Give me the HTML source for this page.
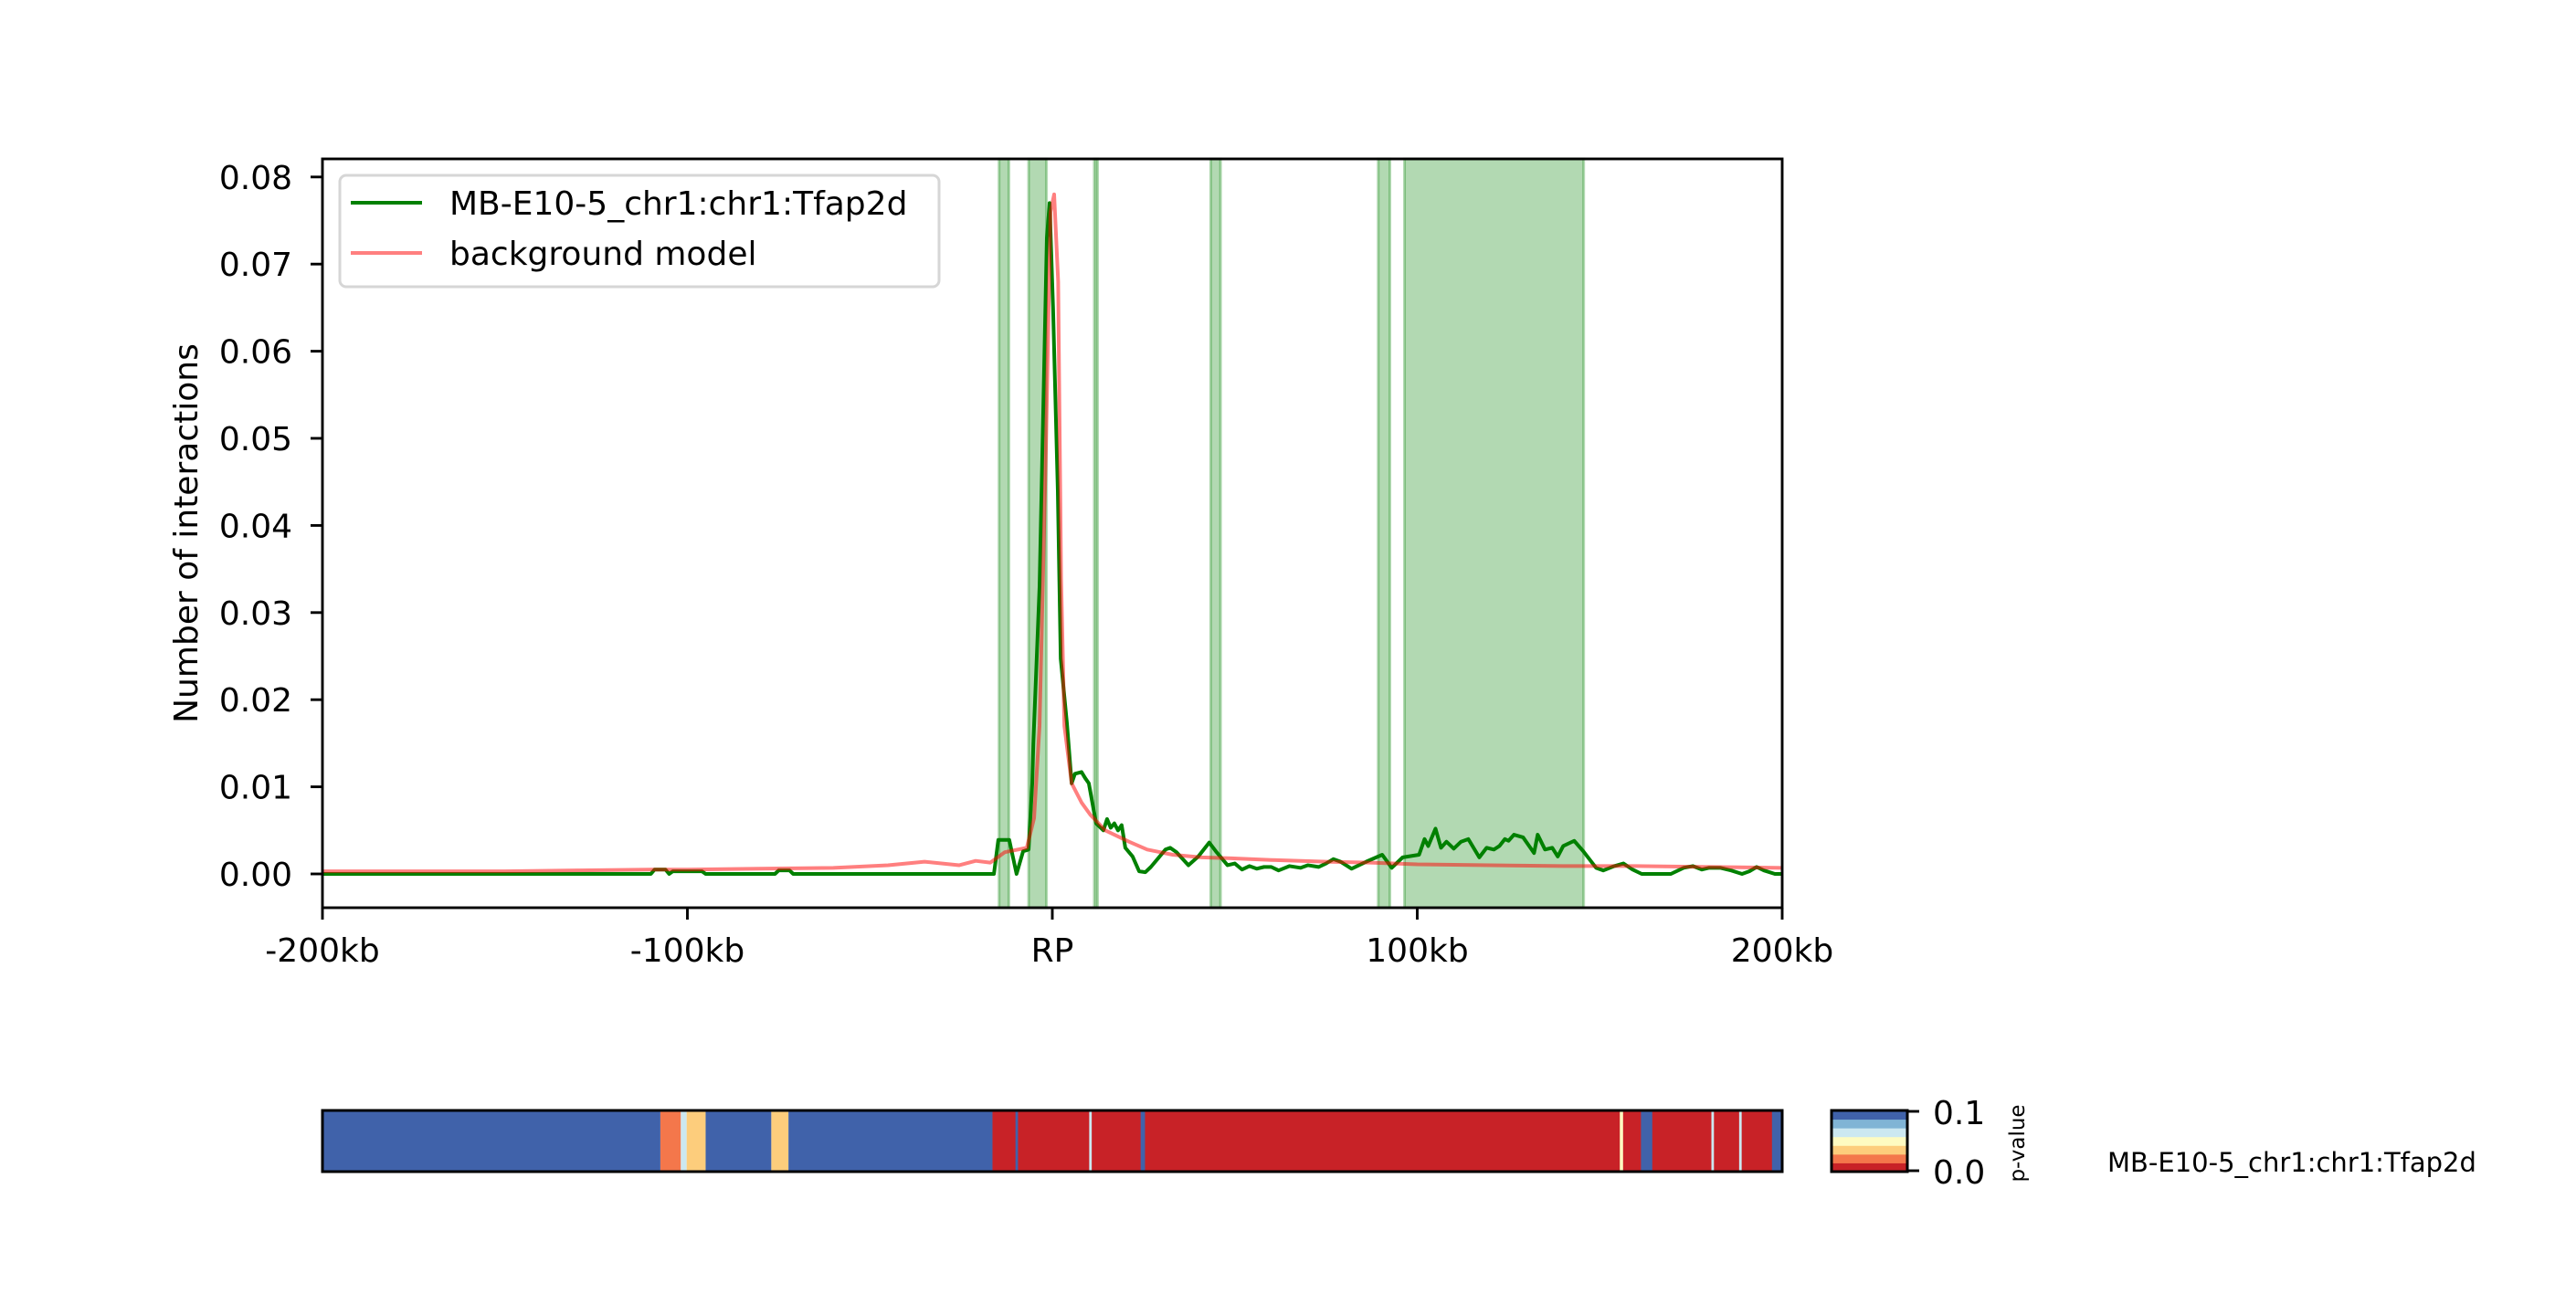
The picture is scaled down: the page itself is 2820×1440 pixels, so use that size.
<!DOCTYPE html>
<html><head><meta charset="utf-8"><style>
html,body{margin:0;padding:0;background:#fff;}
svg{display:block;font-family:"DejaVu Sans","Liberation Sans",sans-serif;}
</style></head><body>
<svg id="chart" width="2820" height="1440" viewBox="0 0 2820 1440" xmlns="http://www.w3.org/2000/svg">
<rect width="2820" height="1440" fill="#fff"/>
<g id="shade"></g>
<g id="lines"></g>
<g id="axes"></g>
<g id="legend"></g>
<g id="heat"></g>
<g id="cbar"></g>
</svg>
<script>
const obsKb=[-200,-110,-109,-106,-105,-104,-96,-95,-76,-75,-72,-71,-16,-14.8,-11.8,-9.8,-8,-6.5,-5.5,-5.2,-3.5,-1.5,-0.75,0.2,1.5,2.3,4,5.3,6.2,8,9,10,12,14,15,16,17,18,19,20,22,23.8,25.5,27,31,32.3,34,37.3,40,43,45,48,50,52,54,56,58,60,62,65,68,70,73,75,77,79,82,86,90.4,93,96,100.5,102,103,105,106.5,108,110,112,114,117,119,121,122.5,124,125,126.5,129,131,132,133,135,137,138.5,140,143,145.5,149,151,154,156.5,159,161.5,169.5,173,175.5,178,180,183,186,189,191,193,195,198,200];
const obsVal=[0,0,0.0005,0.0005,0,0.0003,0.0003,0,0,0.0004,0.0004,0,0,0.0039,0.0039,0,0.0026,0.0028,0.0104,0.015,0.033,0.073,0.077,0.065,0.044,0.0247,0.0173,0.0104,0.0115,0.0117,0.011,0.0104,0.0058,0.005,0.0063,0.0053,0.0058,0.005,0.0056,0.003,0.002,0.0003,0.0002,0.0008,0.0028,0.003,0.0025,0.001,0.002,0.0036,0.0025,0.001,0.0012,0.0005,0.0009,0.0006,0.0008,0.0008,0.0004,0.0009,0.0007,0.001,0.0008,0.0012,0.0017,0.0014,0.0006,0.0014,0.0022,0.0007,0.0019,0.0022,0.004,0.0032,0.0052,0.003,0.0037,0.0029,0.0037,0.004,0.0019,0.003,0.0028,0.0032,0.004,0.0038,0.0045,0.0042,0.003,0.0024,0.0045,0.0028,0.003,0.002,0.0032,0.0038,0.0026,0.0007,0.0004,0.0009,0.0012,0.0005,0,0,0.0007,0.0009,0.0005,0.0007,0.0007,0.0004,0,0.0003,0.0008,0.0004,0,0];
const bgKb=[-200,-150,-130,-110,-100,-80,-60,-45,-35,-25.5,-21,-17,-13,-7,-5,-3.5,-1.75,-0.5,0.5,1.6,2.4,3.3,5.3,8,10.4,14.5,21,26,33,41,49,60,75,87,100,120,140,160,180,200];
const bgVal=[0.0003,0.0003,0.0004,0.0005,0.0005,0.0006,0.0007,0.001,0.0014,0.001,0.0015,0.0013,0.0025,0.003,0.0064,0.017,0.049,0.076,0.078,0.068,0.034,0.017,0.0104,0.0082,0.0068,0.005,0.0037,0.0028,0.0022,0.0019,0.0018,0.0016,0.0014,0.0013,0.0011,0.001,0.0009,0.0009,0.0008,0.0007];
const regionStart=[-14.6,-6.5,11.5,43.4,89.3,96.5];
const regionEnd=[-11.9,-1.6,12.4,46.1,92.5,145.6];
const yTicks=[0,0.01,0.02,0.03,0.04,0.05,0.06,0.07,0.08];
const yTickLabels=["0.00","0.01","0.02","0.03","0.04","0.05","0.06","0.07","0.08"];
const xTicks=[-200,-100,0,100,200];
const xTickLabels=["-200kb","-100kb","RP","100kb","200kb"];
const segStart=[-200,-107.4,-101.8,-100.2,-95,-77,-72.3,-16.4,-10.1,10.1,24.2,155.5,161.3,180.6,188.2,197.2];
const segEnd=[-107.4,-101.8,-100.2,-95,-77,-72.3,-16.4,200,-9.4,10.8,25.4,156.4,164.4,181.3,188.9,200];
const segP=[0.1,0.02,0.06,0.035,0.1,0.035,0.1,0.0,0.09,0.06,0.1,0.05,0.1,0.06,0.06,0.1];
const cbColors=["#c82227","#f4774b","#fdcd7c","#fefbc1","#cce8f1","#80b4d5","#4062aa"];

const NS="http://www.w3.org/2000/svg";
const L=353,R=1951,T=174,B=994;
const X=kb=>L+(kb+200)/400*(R-L);
const Y=v=>957-v/0.01*95.4;
function mk(tag,attrs,parent,text){const e=document.createElementNS(NS,tag);for(const k in attrs)e.setAttribute(k,attrs[k]);if(text!==undefined)e.textContent=text;parent.appendChild(e);return e;}

const shade=document.getElementById('shade');
for(let i=0;i<regionStart.length;i++){
  const r=mk('rect',{x:X(regionStart[i]),y:T,width:X(regionEnd[i])-X(regionStart[i]),height:B-T,fill:'rgba(0,128,0,0.3)',stroke:'rgba(0,128,0,0.3)','stroke-width':3},shade);
  
  
}
const lines=document.getElementById('lines');
const gp=mk('polyline',{points:obsKb.map((k,i)=>X(k)+','+Y(obsVal[i])).join(' '),fill:'none',stroke:'#008000','stroke-width':4,'stroke-linejoin':'round'},lines);


const rp=mk('polyline',{points:bgKb.map((k,i)=>X(k)+','+Y(bgVal[i])).join(' '),fill:'none',stroke:'rgba(255,0,0,0.5)','stroke-width':4,'stroke-linejoin':'round'},lines);



const axes=document.getElementById('axes');
const fr=mk('rect',{x:L,y:T,width:R-L,height:B-T,fill:'none',stroke:'#000','stroke-width':2.9},axes);


yTicks.forEach((v,i)=>{
  mk('line',{x1:L-13,x2:L,y1:Y(v),y2:Y(v),stroke:'#000','stroke-width':2.9},axes);
  const t=mk('text',{x:L-33,y:Y(v)+13,'font-size':36,'text-anchor':'end',fill:'#000'},axes,yTickLabels[i]);
  
  
});
xTicks.forEach((k,i)=>{
  mk('line',{x1:X(k),x2:X(k),y1:B,y2:B+13,stroke:'#000','stroke-width':2.9},axes);
  const t=mk('text',{x:X(k),y:1053,'font-size':36,'text-anchor':'middle',fill:'#000'},axes,xTickLabels[i]);
  
  
});
const yt=mk('text',{x:0,y:0,'font-size':36,'text-anchor':'middle',transform:'translate(216,584) rotate(-90)',fill:'#000'},axes,'Number of interactions');



const leg=document.getElementById('legend');
mk('rect',{x:372,y:192,width:656,height:122,rx:7,fill:'rgba(255,255,255,0.8)',stroke:'#d6d6d6','stroke-width':3},leg);
mk('line',{x1:384,x2:462,y1:222,y2:222,stroke:'#008000','stroke-width':4},leg);
const l1=mk('text',{x:492,y:235,'font-size':36,fill:'#000'},leg,'MB-E10-5_chr1:chr1:Tfap2d');


mk('line',{x1:384,x2:462,y1:277,y2:277,stroke:'rgba(255,0,0,0.5)','stroke-width':4},leg);
const l2=mk('text',{x:492,y:290,'font-size':36,fill:'#000'},leg,'background model');



function pColor(p){let i=Math.floor(p/0.1*7);if(i>6)i=6;if(i<0)i=0;return cbColors[i];}
const heat=document.getElementById('heat');
const HT=1216,HB=1283;
for(let i=0;i<segStart.length;i++){
  const r=mk('rect',{x:X(segStart[i]),y:HT,width:Math.max(1,X(segEnd[i])-X(segStart[i])),height:HB-HT,fill:pColor(segP[i])},heat);
  
  
}
mk('rect',{x:L,y:HT,width:R-L,height:HB-HT,fill:'none',stroke:'#000','stroke-width':3},heat);

const cb=document.getElementById('cbar');
const CL=2005,CR=2088;
const ch=(HB-HT)/cbColors.length;
cbColors.forEach((c,i)=>{
  const r=mk('rect',{x:CL,y:HB-(i+1)*ch,width:CR-CL,height:ch+0.5,fill:c},cb);
  
  
});
mk('rect',{x:CL,y:HT,width:CR-CL,height:HB-HT,fill:'none',stroke:'#000','stroke-width':3},cb);
mk('line',{x1:CR,x2:CR+13,y1:HT+1,y2:HT+1,stroke:'#000','stroke-width':2.9},cb);
mk('line',{x1:CR,x2:CR+13,y1:HB-1,y2:HB-1,stroke:'#000','stroke-width':2.9},cb);
const c1=mk('text',{x:2116,y:1231,'font-size':36,fill:'#000'},cb,'0.1');


const c0=mk('text',{x:2116,y:1296,'font-size':36,fill:'#000'},cb,'0.0');


const pv=mk('text',{x:0,y:0,'font-size':23,'text-anchor':'middle',transform:'translate(2216,1252) rotate(-90)',fill:'#000'},cb,'p-value');


const hl=mk('text',{x:2307,y:1283,'font-size':29,fill:'#000'},cb,'MB-E10-5_chr1:chr1:Tfap2d');


</script>
</body></html>
